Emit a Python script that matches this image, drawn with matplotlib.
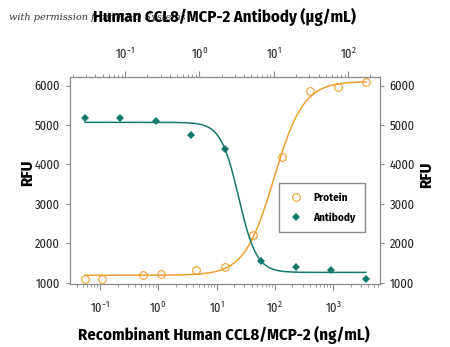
import numpy as np
import matplotlib
matplotlib.use('Agg')
import matplotlib.pyplot as plt
from matplotlib.lines import Line2D

plt.rcParams['font.family'] = ['Fira Sans Condensed', 'PT Sans Narrow', 'DejaVu Sans']
plt.rcParams['mathtext.fontset'] = 'custom'
plt.rcParams['mathtext.rm'] = 'Fira Sans Condensed'
plt.rcParams['mathtext.it'] = 'Fira Sans Condensed:italic'
plt.rcParams['mathtext.bf'] = 'Fira Sans Condensed:bold'

# Recombinant protein (ng/mL, bottom axis)
protein_conc = [0.055, 0.107, 0.55, 1.1, 4.4, 14, 43, 132, 400, 1200, 3650]
protein_rfu = [1100, 1085, 1210, 1235, 1320, 1405, 2205, 4190, 5860, 5960, 6080]

# Neutralizing antibody (ug/mL, top axis)
antibody_conc = [0.029, 0.086, 0.26, 0.77, 2.23, 6.7, 20, 58.5, 173]
antibody_rfu = [5180, 5180, 5110, 4755, 4400, 1540, 1395, 1330, 1085]

yticks = [1000, 2000, 3000, 4000, 5000, 6000]

orange = '#F0A030'
teal = '#17786C'
grey = '#8a8a8a'


def fit_4pl(x, y):
    # simple grid search 4PL fit; bottom/top solved by least squares
    lx = np.log10(np.asarray(x, float))
    y = np.asarray(y, float)
    best = None
    for c in np.linspace(lx.min(), lx.max(), 160):
        for h in np.linspace(0.4, 5, 120):
            s = 1 / (1 + 10 ** ((c - lx) * h))
            A = np.column_stack([np.ones_like(s), s])
            coef = np.linalg.lstsq(A, y, rcond=None)[0]
            err = np.sum((A @ coef - y) ** 2)
            if best is None or err < best[0]:
                best = (err, c, h, coef)
    _, c, h, coef = best

    def f(xx):
        s = 1 / (1 + 10 ** ((c - np.log10(xx)) * h))
        return coef[0] + coef[1] * s
    return f


fig = plt.figure(figsize=(4.5, 3.47), dpi=100)
ax = fig.add_axes([0.1556, 0.1816, 0.689, 0.597])
ax_top = ax.twiny()

# protein on bottom axis
f_p = fit_4pl(protein_conc, protein_rfu)
xs = np.logspace(np.log10(min(protein_conc)), np.log10(max(protein_conc)), 300)
ax.plot(xs, f_p(xs), color=orange, lw=1.1, zorder=2)
ax.plot(protein_conc, protein_rfu, 'o', mfc='none', mec=orange, ms=5.5, mew=0.8, zorder=3)

# antibody on top axis
f_a = fit_4pl(antibody_conc, antibody_rfu)
xs2 = np.logspace(np.log10(min(antibody_conc)), np.log10(max(antibody_conc)), 300)
ax_top.plot(xs2, f_a(xs2), color=teal, lw=1.1, zorder=2)
ax_top.plot(antibody_conc, antibody_rfu, 'D', color=teal, ms=4.5, mew=0, zorder=3)

ax.set_xscale('log')
ax_top.set_xscale('log')
ax.set_xlim(0.0305, 6410)
ax_top.set_xlim(0.0182, 269)
ax.set_ylim(970, 6220)
ax.set_yticks(yticks)

for a in (ax, ax_top):
    for sp in a.spines.values():
        sp.set_color(grey)
        sp.set_linewidth(0.8)

ax.tick_params(axis='y', which='both', left=True, right=True, labelleft=True,
               labelright=True, direction='out', length=3, color=grey,
               labelsize=9, pad=4, labelcolor='#222222')
ax.tick_params(axis='x', which='major', direction='out', length=4, color=grey,
               labelsize=9, pad=8, labelcolor='#222222')
ax.tick_params(axis='x', which='minor', direction='out', length=2, color=grey)
ax_top.tick_params(axis='x', which='major', direction='out', length=4, color=grey,
                   labelsize=9, pad=7, labelcolor='#222222')
ax_top.tick_params(axis='x', which='minor', direction='out', length=2, color=grey)

# axis titles placed in figure coords
fig.text(0.498, 0.036, 'Recombinant Human CCL8/MCP-2 (ng/mL)', fontsize=12,
         fontweight='bold', ha='center', va='center')
fig.text(0.498, 0.951, 'Human CCL8/MCP-2 Antibody (\u00b5g/mL)', fontsize=12,
         fontweight='bold', ha='center', va='center', zorder=3)
fig.text(0.062, 0.503, 'RFU', rotation=90, fontsize=12, fontweight='bold',
         ha='center', va='center')
fig.text(0.948, 0.497, 'RFU', rotation=90, fontsize=12, fontweight='bold',
         ha='center', va='center')

handles = [
    Line2D([], [], ls='none', marker='o', mfc='none', mec=orange, ms=5.5, mew=0.8),
    Line2D([], [], ls='none', marker='D', color=teal, ms=4.5, mew=0),
]
leg = ax.legend(handles, ['Protein', 'Antibody'], loc='upper right',
                bbox_to_anchor=(0.968, 0.512), fancybox=False, framealpha=1,
                edgecolor=grey, handletextpad=0.8, borderpad=0.85, handlelength=1.4,
                labelspacing=0.8, prop={'weight': 'bold', 'size': 8})
leg.get_frame().set_linewidth(1)

fig.text(0.02, 0.951, 'with permission from R&D Systems', fontsize=7,
         family='DejaVu Serif', style='italic', color='#333333', va='center', zorder=0)

fig.savefig('out.png', dpi=100)
